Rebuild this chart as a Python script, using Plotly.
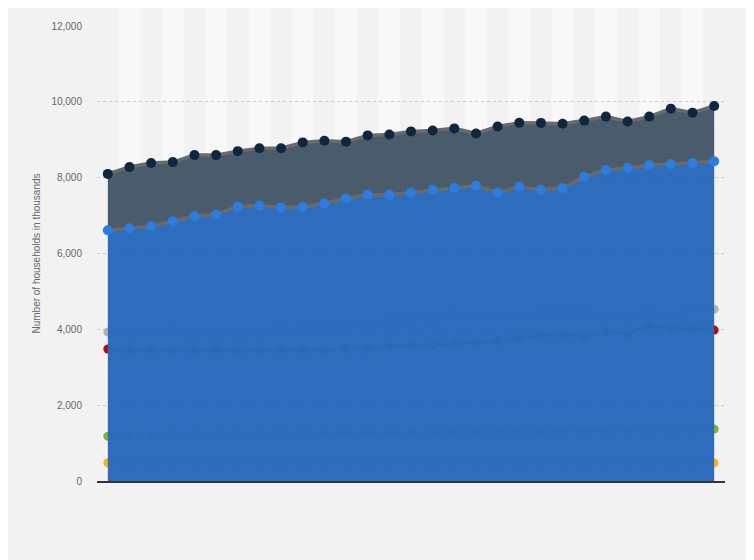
import plotly.graph_objects as go

# years (x axis labels are hidden in the reference)
years = [str(y) for y in range(1990, 2019)]

# values in thousands of households
total = [8100, 8280, 8385, 8410, 8595, 8595, 8700, 8775, 8775, 8930,
         8975, 8950, 9115, 9140, 9220, 9245, 9300, 9165, 9350, 9450,
         9445, 9420, 9505, 9610, 9480, 9610, 9820, 9715, 9890]
blue = [6615, 6665, 6720, 6850, 6980, 7030, 7240, 7265, 7215, 7235,
        7320, 7450, 7550, 7550, 7605, 7680, 7735, 7785, 7605, 7760,
        7680, 7725, 8020, 8205, 8255, 8335, 8360, 8385, 8435]
grey = [3930, 3890, 3920, 3960, 3850, 3870, 3850, 3850, 3970, 4020,
        4050, 4100, 4160, 4230, 4250, 4320, 4380, 4350, 4340, 4350,
        4390, 4510, 4390, 4320, 4300, 4490, 4340, 4560, 4530]
red = [3480, 3460, 3470, 3450, 3460, 3470, 3450, 3460, 3470, 3480,
       3470, 3490, 3500, 3540, 3560, 3580, 3620, 3660, 3700, 3760,
       3840, 3880, 3800, 3930, 3890, 4100, 4020, 4020, 3980]
green = [1180, 1190, 1185, 1200, 1210, 1205, 1220, 1230, 1225, 1240,
         1250, 1245, 1260, 1270, 1265, 1280, 1290, 1285, 1300, 1310,
         1305, 1320, 1330, 1325, 1340, 1350, 1345, 1360, 1370]
orange = [480, 485, 490, 488, 492, 495, 490, 494, 498, 496,
          500, 498, 502, 500, 497, 495, 498, 494, 490, 492,
          488, 486, 490, 485, 482, 484, 480, 478, 478]

fig = go.Figure()

# lower series sit behind the blue area, only their end markers peek out
for vals, col in [(orange, "#f0b429"), (green, "#7cb82f"),
                  (red, "#b00c0c"), (grey, "#b3b3b3")]:
    fig.add_trace(go.Scatter(
        x=years, y=vals, mode="lines+markers",
        line=dict(color=col, width=2.5),
        marker=dict(color=col, size=9),
        hoverinfo="skip", showlegend=False,
    ))

fig.add_trace(go.Scatter(
    x=years, y=blue, mode="lines+markers", fill="tozeroy",
    fillcolor="rgba(42,106,188,0.98)",
    line=dict(color="#6a6a6a", width=3.5),
    marker=dict(color="#2b7de0", size=10),
    showlegend=False,
))
fig.add_trace(go.Scatter(
    x=years, y=total, mode="lines+markers", fill="tonexty",
    fillcolor="#4a5b6c",
    line=dict(color="#6a6a6a", width=3.5),
    marker=dict(color="#0e2640", size=10),
    showlegend=False,
))

# alternating light column bands
shapes = []
for i in range(1, len(years), 2):
    shapes.append(dict(
        type="rect", xref="x", yref="paper",
        x0=i - 0.5, x1=i + 0.5, y0=0, y1=1.06,
        fillcolor="#f8f8f8", line=dict(width=0), layer="below",
    ))

fig.update_layout(
    width=754, height=560,
    margin=dict(l=89, r=37, t=12, b=87),
    paper_bgcolor="#f2f2f2", plot_bgcolor="#f2f2f2",
    font=dict(family="Liberation Sans, Arial, sans-serif", size=10, color="#666"),
    shapes=shapes,
    xaxis=dict(
        type="category", range=[-0.5, len(years) - 0.5],
        showticklabels=False, showgrid=False, zeroline=False,
        showline=True, linecolor="#333", linewidth=1.5,
    ),
    yaxis=dict(
        range=[0, 12000], dtick=2000, tickformat=",",
        showgrid=True, gridcolor="#cccccc", griddash="dot", gridwidth=1,
        zeroline=False, ticklabelstandoff=14,
        title=dict(text="Number of households in thousands", standoff=8,
                   font=dict(size=10, color="#666")),
    ),
)

fig.write_html("out.html")
